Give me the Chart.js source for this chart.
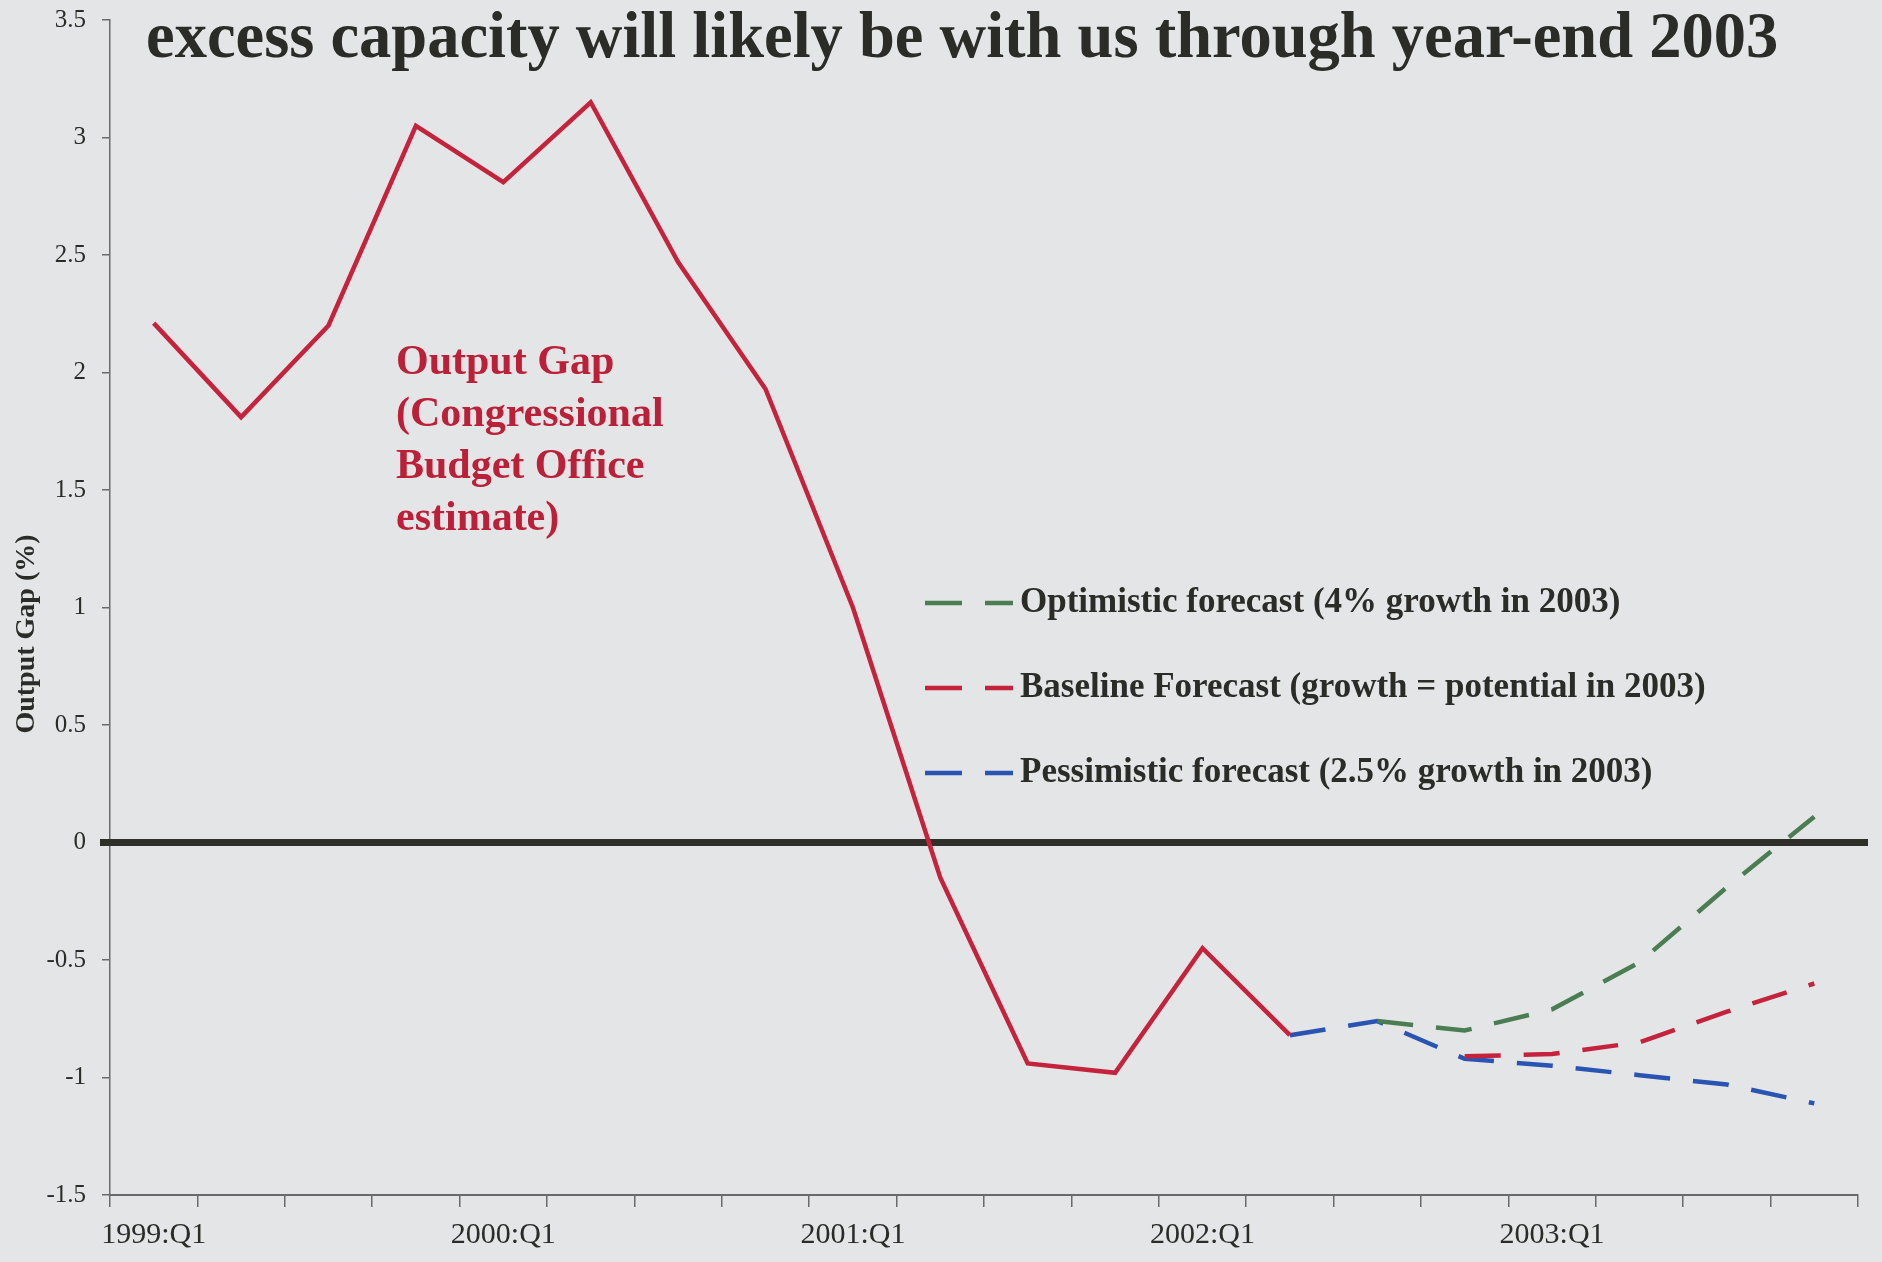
<!DOCTYPE html>
<html><head><meta charset="utf-8">
<script src="https://cdn.jsdelivr.net/npm/chart.js@4.4.0/dist/chart.umd.min.js"></script>
<style>html,body{margin:0;padding:0;background:#e3e5e7;}canvas{display:block;}</style>
</head><body>
<canvas id="c" width="1882" height="1262"></canvas>
<script>
// ---- data ----
const quarters = ['1999:Q1','1999:Q2','1999:Q3','1999:Q4','2000:Q1','2000:Q2','2000:Q3','2000:Q4',
  '2001:Q1','2001:Q2','2001:Q3','2001:Q4','2002:Q1','2002:Q2','2002:Q3','2002:Q4',
  '2003:Q1','2003:Q2','2003:Q3','2003:Q4'];
const outputGap   = [2.21,1.81,2.20,3.05,2.81,3.15,2.47,1.93,1.00,-0.15,-0.94,-0.98,-0.45,-0.82,null,null,null,null,null,null];
const optimistic  = [null,null,null,null,null,null,null,null,null,null,null,null,null,null,-0.76,-0.80,-0.71,-0.51,-0.19,0.11];
const baseline    = [null,null,null,null,null,null,null,null,null,null,null,null,null,null,null,-0.91,-0.90,-0.85,-0.72,-0.60];
const pessimistic = [null,null,null,null,null,null,null,null,null,null,null,null,null,-0.82,-0.76,-0.92,-0.95,-0.99,-1.03,-1.11];
const yTicks = [-1.5,-1,-0.5,0,0.5,1,1.5,2,2.5,3,3.5];
const yTickLabels = ['-1.5','-1','-0.5','0','0.5','1','1.5','2','2.5','3','3.5'];
const titleText = 'excess capacity will likely be with us through year-end 2003';
const yAxisTitle = 'Output Gap (%)';
const annotationLines = ['Output Gap','(Congressional','Budget Office','estimate)'];
const legendLabels = ['Optimistic forecast (4% growth in 2003)','Baseline Forecast (growth = potential in 2003)','Pessimistic forecast (2.5% growth in 2003)'];

const SERIF = '"Liberation Serif", "DejaVu Serif", serif';
const RED = '#c5223b', GREEN = '#4b7d52', BLUE = '#2a54b2';
const DASH = [36, 23];

const overlay = {
  id: 'overlay',
  beforeDatasetsDraw(chart) {
    const {ctx, chartArea, scales: {y}} = chart;
    const y0 = y.getPixelForValue(0);
    ctx.save();
    ctx.strokeStyle = '#2e3029';
    ctx.lineWidth = 7;
    ctx.beginPath();
    ctx.moveTo(chartArea.left - 10, y0);
    ctx.lineTo(chartArea.right + 10, y0);
    ctx.stroke();
    ctx.restore();
  },
  afterDraw(chart) {
    const {ctx} = chart;
    ctx.save();
    // title
    ctx.fillStyle = '#2b2b28';
    ctx.font = 'bold 64.5px ' + SERIF;
    ctx.textAlign = 'left';
    ctx.textBaseline = 'alphabetic';
    ctx.fillText(titleText, 146, 57);
    // y axis title
    ctx.save();
    ctx.translate(27, 634);
    ctx.rotate(-Math.PI / 2);
    ctx.font = 'bold 28px ' + SERIF;
    ctx.textAlign = 'center';
    ctx.textBaseline = 'middle';
    ctx.fillStyle = '#2b2b28';
    ctx.fillText(yAxisTitle, 0, 0);
    ctx.restore();
    // annotation
    ctx.fillStyle = '#bb2038';
    ctx.font = 'bold 42px ' + SERIF;
    ctx.textBaseline = 'alphabetic';
    annotationLines.forEach((t, i) => ctx.fillText(t, 396, 374 + i * 52));
    // legend
    const order = [2, 1, 3];
    ctx.font = 'bold 35px ' + SERIF;
    ctx.textBaseline = 'middle';
    order.forEach((di, i) => {
      const ds = chart.data.datasets[di];
      const yy = 603 + i * 85;
      ctx.strokeStyle = ds.borderColor;
      ctx.lineWidth = 4.5;
      ctx.setLineDash([37, 23]);
      ctx.beginPath();
      ctx.moveTo(925, yy);
      ctx.lineTo(1013, yy);
      ctx.stroke();
      ctx.setLineDash([]);
      ctx.fillStyle = '#2b2b28';
      ctx.fillText(legendLabels[i], 1020, yy);
    });
    ctx.restore();
  }
};

new Chart(document.getElementById('c'), {
  type: 'line',
  data: {
    labels: quarters,
    datasets: [
      {label: 'Output Gap (Congressional Budget Office estimate)', data: outputGap, borderColor: RED, borderWidth: 4.5},
      {label: legendLabels[1], data: baseline, borderColor: RED, borderWidth: 4.5, borderDash: DASH},
      {label: legendLabels[0], data: optimistic, borderColor: GREEN, borderWidth: 4.5, borderDash: DASH},
      {label: legendLabels[2], data: pessimistic, borderColor: BLUE, borderWidth: 4.5, borderDash: DASH}
    ]
  },
  options: {
    responsive: false,
    animation: false,
    events: [],
    elements: {point: {radius: 0}, line: {tension: 0, borderCapStyle: 'butt', borderJoinStyle: 'miter'}},
    layout: {padding: {top: 20, right: 24, left: 0, bottom: 0}},
    plugins: {legend: {display: false}, title: {display: false}, tooltip: {enabled: false}},
    scales: {
      x: {
        offset: true,
        grid: {offset: true, drawOnChartArea: false, drawTicks: true, tickLength: 12, color: '#6a6a6a', lineWidth: 1.5},
        border: {display: true, color: '#6a6a6a', width: 2},
        ticks: {
          autoSkip: false, maxRotation: 0, padding: 10,
          color: '#2b2b28', font: {family: SERIF, size: 30},
          callback: (v, i) => (i % 4 === 0 ? quarters[i] : '')
        },
        afterFit: s => { s.height = 67; s.paddingLeft = 0; s.paddingRight = 0; }
      },
      y: {
        min: -1.5, max: 3.5,
        afterBuildTicks: s => { s.ticks = yTicks.map(v => ({value: v})); },
        grid: {drawOnChartArea: false, drawTicks: true, tickLength: 8, color: '#6a6a6a', lineWidth: 1.5},
        border: {display: true, color: '#6a6a6a', width: 1.5},
        ticks: {
          padding: 16, color: '#2b2b28', font: {family: SERIF, size: 25},
          callback: (v) => yTickLabels[yTicks.indexOf(v)]
        },
        afterFit: s => { s.width = 110; s.paddingTop = 0; s.paddingBottom = 0; }
      }
    }
  },
  plugins: [overlay]
});
</script>
</body></html>
